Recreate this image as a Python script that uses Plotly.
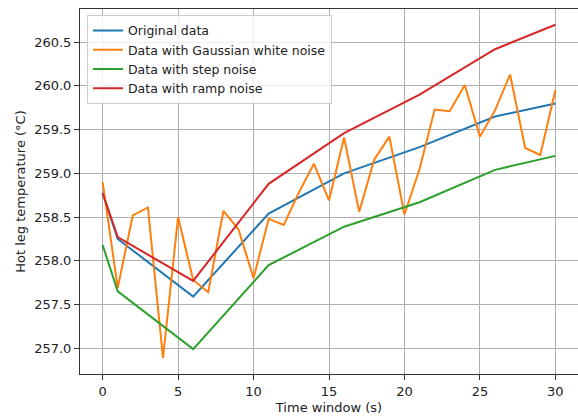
import plotly.graph_objects as go

x_coarse = [0, 1, 6, 11, 16, 21, 26, 30]
original = [258.78, 258.25, 257.59, 258.54, 259.00, 259.30, 259.65, 259.80]
step_noise = [258.18, 257.65, 256.99, 257.95, 258.39, 258.67, 259.04, 259.20]
ramp_noise = [258.77, 258.27, 257.77, 258.88, 259.46, 259.90, 260.42, 260.70]

x_fine = list(range(31))
gaussian = [258.90, 257.69, 258.52, 258.61, 256.89, 258.50, 257.78, 257.64, 258.57, 258.36,
            257.80, 258.48, 258.41, 258.78, 259.11, 258.69, 259.41, 258.56, 259.16, 259.42,
            258.53, 259.05, 259.73, 259.71, 260.01, 259.42, 259.72, 260.13, 259.29, 259.21,
            259.95]

y_ticks = [257.0, 257.5, 258.0, 258.5, 259.0, 259.5, 260.0, 260.5]
x_ticks = [0, 5, 10, 15, 20, 25, 30]

fig = go.Figure()
fig.add_trace(go.Scatter(x=x_coarse, y=original, mode="lines", name="Original data",
                         line=dict(color="#1f77b4", width=2)))
fig.add_trace(go.Scatter(x=x_fine, y=gaussian, mode="lines", name="Data with Gaussian white noise",
                         line=dict(color="#ff7f0e", width=2)))
fig.add_trace(go.Scatter(x=x_coarse, y=step_noise, mode="lines", name="Data with step noise",
                         line=dict(color="#2ca02c", width=2)))
fig.add_trace(go.Scatter(x=x_coarse, y=ramp_noise, mode="lines", name="Data with ramp noise",
                         line=dict(color="#d62728", width=2)))

axis_common = dict(showline=True, linecolor="#333333", linewidth=1, mirror=True,
                   ticks="outside", ticklen=5, tickcolor="#333333",
                   showgrid=True, gridcolor="#b0b0b0", gridwidth=1, zeroline=False,
                   tickfont=dict(size=13, color="#222222"))

fig.update_layout(
    width=578, height=416,
    margin=dict(l=80, r=0, t=9, b=42),
    paper_bgcolor="white", plot_bgcolor="white",
    font=dict(family="DejaVu Sans", size=13, color="#222222"),
    showlegend=True,
    legend=dict(x=0.014, y=0.984, xanchor="left", yanchor="top",
                bgcolor="rgba(255,255,255,0.8)", bordercolor="#cccccc", borderwidth=1,
                font=dict(size=12.5, color="#222222"), tracegroupgap=0, itemwidth=30),
    xaxis=dict(range=[-1.5, 31.5], tickvals=x_ticks,
               title=dict(text="Time window (s)", standoff=5, font=dict(size=13)),
               **axis_common),
    yaxis=dict(range=[256.705, 260.88], tickvals=y_ticks, tickformat=".1f",
               title=dict(text="Hot leg temperature (°C)", standoff=5, font=dict(size=13)),
               **axis_common),
)

fig.write_html("out.html")
